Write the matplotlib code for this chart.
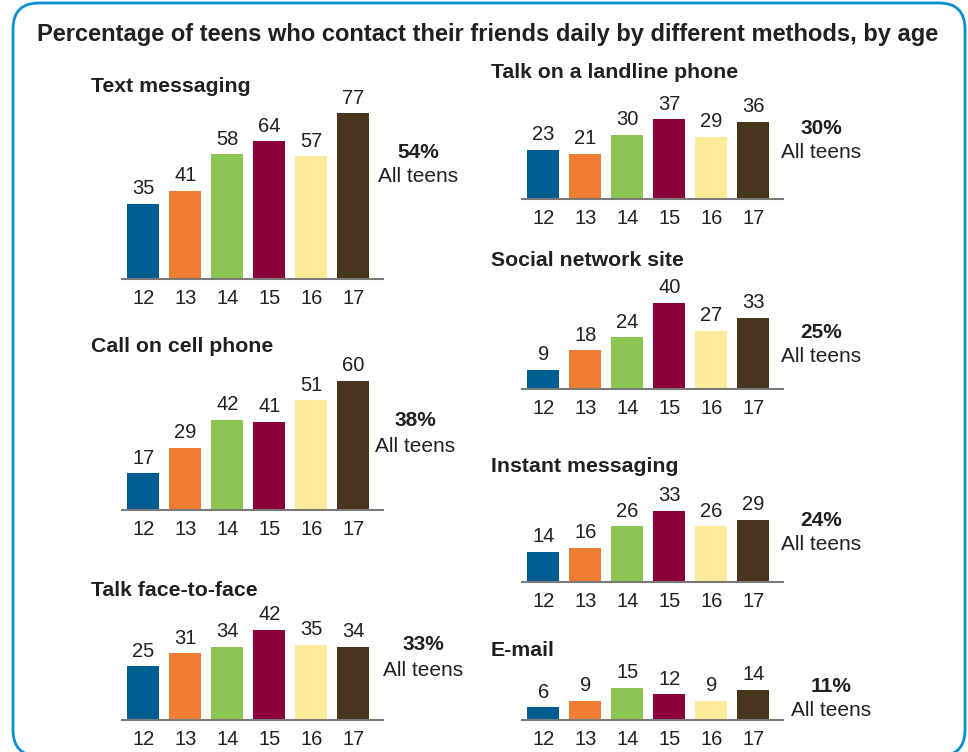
import numpy as np
import matplotlib.pyplot as plt
from matplotlib.patches import FancyBboxPatch

plt.rcParams['font.family'] = ['Liberation Sans', 'DejaVu Sans']

ages = ['12', '13', '14', '15', '16', '17']
bar_colors = ['#005d91', '#f07e32', '#8cc652', '#8c0039', '#fdea9b', '#47351d']

text_msg = [35, 41, 58, 64, 57, 77]
cell_call = [17, 29, 42, 41, 51, 60]
face_to_face = [25, 31, 34, 42, 35, 34]
landline = [23, 21, 30, 37, 29, 36]
social_net = [9, 18, 24, 40, 27, 33]
instant_msg = [14, 16, 26, 33, 26, 29]
email = [6, 9, 15, 12, 9, 14]

titles = ['Text messaging', 'Call on cell phone', 'Talk face-to-face',
          'Talk on a landline phone', 'Social network site',
          'Instant messaging', 'E-mail']
all_teens = [54, 38, 33, 30, 25, 24, 11]
series = [text_msg, cell_call, face_to_face, landline, social_net,
          instant_msg, email]

W, H = 968, 752
txt = '#231f20'

fig = plt.figure(figsize=(W / 100, H / 100), dpi=100)
bg = fig.add_axes([0, 0, 1, 1])
bg.set_xlim(0, W)
bg.set_ylim(0, H)
bg.axis('off')

# frame, bottom edge sits just below the canvas
box = FancyBboxPatch((13, H - 756), 952, 753, boxstyle='round,pad=0,rounding_size=26',
                     ec='#0a8fd0', fc='none', lw=2)
bg.add_patch(box)

bg.text(37, H - 34, 'Percentage of teens who contact their friends daily by different methods, by age',
        fontsize=17, fontweight='bold', color=txt, ha='left', va='center')

# pixel layout (from top): axis left, baseline, title x, title y, note x, note y
layout = [
    (122, 279, 91, 87, 418, 152),
    (122, 510, 91, 347, 415, 421),
    (122, 720, 91, 591, 423, 645),
    (522, 199, 491, 73, 821, 128),
    (522, 389, 491, 261, 821, 332),
    (522, 582, 491, 467, 821, 520),
    (522, 720, 491, 651, 831, 686),
]

axw, axh = 261, 172
for vals, title, pct, (lx, base, tx, ty, nx, ny) in zip(series, titles, all_teens, layout):
    ax = fig.add_axes([lx / W, 1 - base / H, axw / W, axh / H])
    x = np.arange(len(ages))
    bars = ax.bar(x, vals, width=0.76, color=bar_colors)
    for b, v in zip(bars, vals):
        ax.annotate(str(v), (b.get_x() + b.get_width() / 2, v), xytext=(0, 4),
                    textcoords='offset points', ha='center', va='bottom',
                    fontsize=14.5, color=txt)
    ax.set_xlim(-0.51, 5.71)
    ax.set_ylim(0, 80)
    ax.set_xticks(x, ages)
    ax.tick_params(axis='x', length=0, pad=7, labelsize=14.5, labelcolor=txt)
    ax.set_yticks([])
    for s in ['top', 'right', 'left']:
        ax.spines[s].set_visible(False)
    ax.spines['bottom'].set_color('#7a7a7a')
    ax.spines['bottom'].set_linewidth(1.5)
    ax.patch.set_alpha(0)

    bg.text(tx, H - ty, title, fontsize=15.3, fontweight='bold', color=txt,
            ha='left', va='center')
    bg.text(nx, H - ny, '%d%%' % pct, fontsize=15, fontweight='bold', color=txt,
            ha='center', va='center')
    bg.text(nx, H - ny - 25, 'All teens', fontsize=15, color=txt,
            ha='center', va='center')

plt.savefig('out.png', dpi=100)
